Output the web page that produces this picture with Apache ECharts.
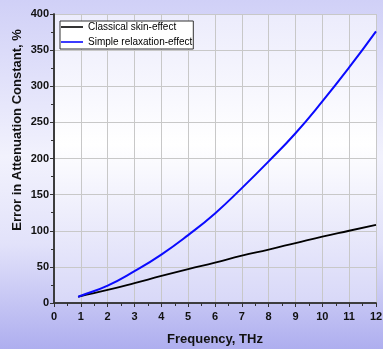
<!DOCTYPE html>
<html>
<head>
<meta charset="utf-8">
<script src="https://cdn.jsdelivr.net/npm/echarts@6/dist/echarts.min.js"></script>
<style>
  html, body { margin: 0; padding: 0; }
  #chart {
    width: 383px;
    height: 349px;
    background: linear-gradient(to bottom, #d0d0f7 0%, #f2f2fd 45%, #e2e2fa 70%, #aeaeef 100%);
  }
</style>
</head>
<body>
<div id="chart"></div>
<script>
// frequency, THz
var freq = [0.9, 1, 2, 3, 4, 5, 6, 7, 8, 9, 10, 11, 12];
// error in attenuation constant, %
var classicalSkin = [8.5, 9.5, 18, 27.5, 37.5, 47, 56, 65.5, 74, 83, 92, 100, 108];
var simpleRelaxation = [8.5, 10, 24, 44, 67, 94, 124, 159, 196, 235, 279, 326, 376];
var seriesNames = ['Classical skin-effect', 'Simple relaxation-effect'];

var font = 'Liberation Sans, Arial, sans-serif';

function pairs(ys) {
  return freq.map(function (x, i) { return [x, ys[i]]; });
}

var myChart = echarts.init(document.getElementById('chart'));
myChart.setOption({
  backgroundColor: 'transparent',
  animation: false,
  grid: {
    left: 54,
    top: 14,
    right: 7,
    bottom: 46,
    outerBoundsMode: 'none',
    containLabel: false,
    show: true,
    borderWidth: 0,
    backgroundColor: {
      type: 'linear', x: 0, y: 0, x2: 0, y2: 1,
      colorStops: [
        { offset: 0, color: '#ececfc' },
        { offset: 0.45, color: '#ffffff' },
        { offset: 1, color: '#d8d8f8' }
      ]
    }
  },
  legend: {
    orient: 'vertical',
    left: 60,
    top: 21,
    padding: [0, 1, 1, 1],
    itemGap: 3,
    itemWidth: 22,
    itemHeight: 1.6,
    itemTextGap: 3,
    icon: 'rect',
    itemStyle: { borderWidth: 0 },
    backgroundColor: '#ffffff',
    borderColor: '#333333',
    borderWidth: 1,
    borderRadius: 0,
    textStyle: { color: '#000', fontSize: 10, lineHeight: 12, fontFamily: font }
  },
  graphic: [
    {
      type: 'text',
      x: 17,
      y: 130,
      rotation: Math.PI / 2,
      style: {
        text: 'Error in Attenuation Constant, %',
        fill: '#111',
        font: 'bold 13px ' + font,
        align: 'center',
        verticalAlign: 'middle'
      }
    }
  ],
  xAxis: [
    {
      type: 'value',
      min: 0,
      max: 12,
      interval: 1,
      name: 'Frequency, THz',
      nameLocation: 'middle',
      nameGap: 30,
      nameTextStyle: { color: '#111', fontSize: 13, fontWeight: 'bold', fontFamily: font },
      axisLine: { show: true, lineStyle: { color: '#333', width: 1.5 } },
      axisTick: { show: true, length: 4, lineStyle: { color: '#333' } },
      minorTick: { show: true, splitNumber: 2, length: 3, lineStyle: { color: '#333' } },
      axisLabel: { color: '#111', fontSize: 11, fontWeight: 'bold', fontFamily: font, margin: 8 },
      splitLine: { show: true, lineStyle: { color: '#c8c8c8', width: 1 } }
    },
    {
      type: 'value',
      position: 'top',
      min: 0,
      max: 12,
      interval: 1,
      axisLine: { show: true, lineStyle: { color: '#333', width: 1.5 } },
      axisTick: { show: true, inside: true, length: 3, lineStyle: { color: '#333' } },
      minorTick: { show: true, splitNumber: 2, length: 2, lineStyle: { color: '#333' } },
      axisLabel: { show: false },
      splitLine: { show: false }
    }
  ],
  yAxis: [
    {
      type: 'value',
      min: 0,
      max: 400,
      interval: 50,
      axisLine: { show: true, lineStyle: { color: '#333', width: 1.5 } },
      axisTick: { show: true, length: 4, lineStyle: { color: '#333' } },
      minorTick: { show: true, splitNumber: 2, length: 3, lineStyle: { color: '#333' } },
      axisLabel: { color: '#111', fontSize: 11, fontWeight: 'bold', fontFamily: font, margin: 5 },
      splitLine: { show: true, lineStyle: { color: '#c8c8c8', width: 1 } }
    },
    {
      type: 'value',
      position: 'right',
      min: 0,
      max: 400,
      interval: 50,
      axisLine: { show: true, lineStyle: { color: '#333', width: 1.5 } },
      axisTick: { show: true, inside: true, length: 3, lineStyle: { color: '#333' } },
      minorTick: { show: true, splitNumber: 2, length: 3, lineStyle: { color: '#333' } },
      axisLabel: { show: false },
      splitLine: { show: false }
    }
  ],
  series: [
    {
      name: seriesNames[0],
      type: 'line',
      smooth: true,
      symbol: 'none',
      data: pairs(classicalSkin),
      lineStyle: { color: '#000000', width: 1.8 },
      itemStyle: { color: '#000000' }
    },
    {
      name: seriesNames[1],
      type: 'line',
      smooth: true,
      symbol: 'none',
      data: pairs(simpleRelaxation),
      lineStyle: { color: '#0a0aff', width: 2 },
      itemStyle: { color: '#0a0aff' }
    }
  ]
});
</script>
</body>
</html>
